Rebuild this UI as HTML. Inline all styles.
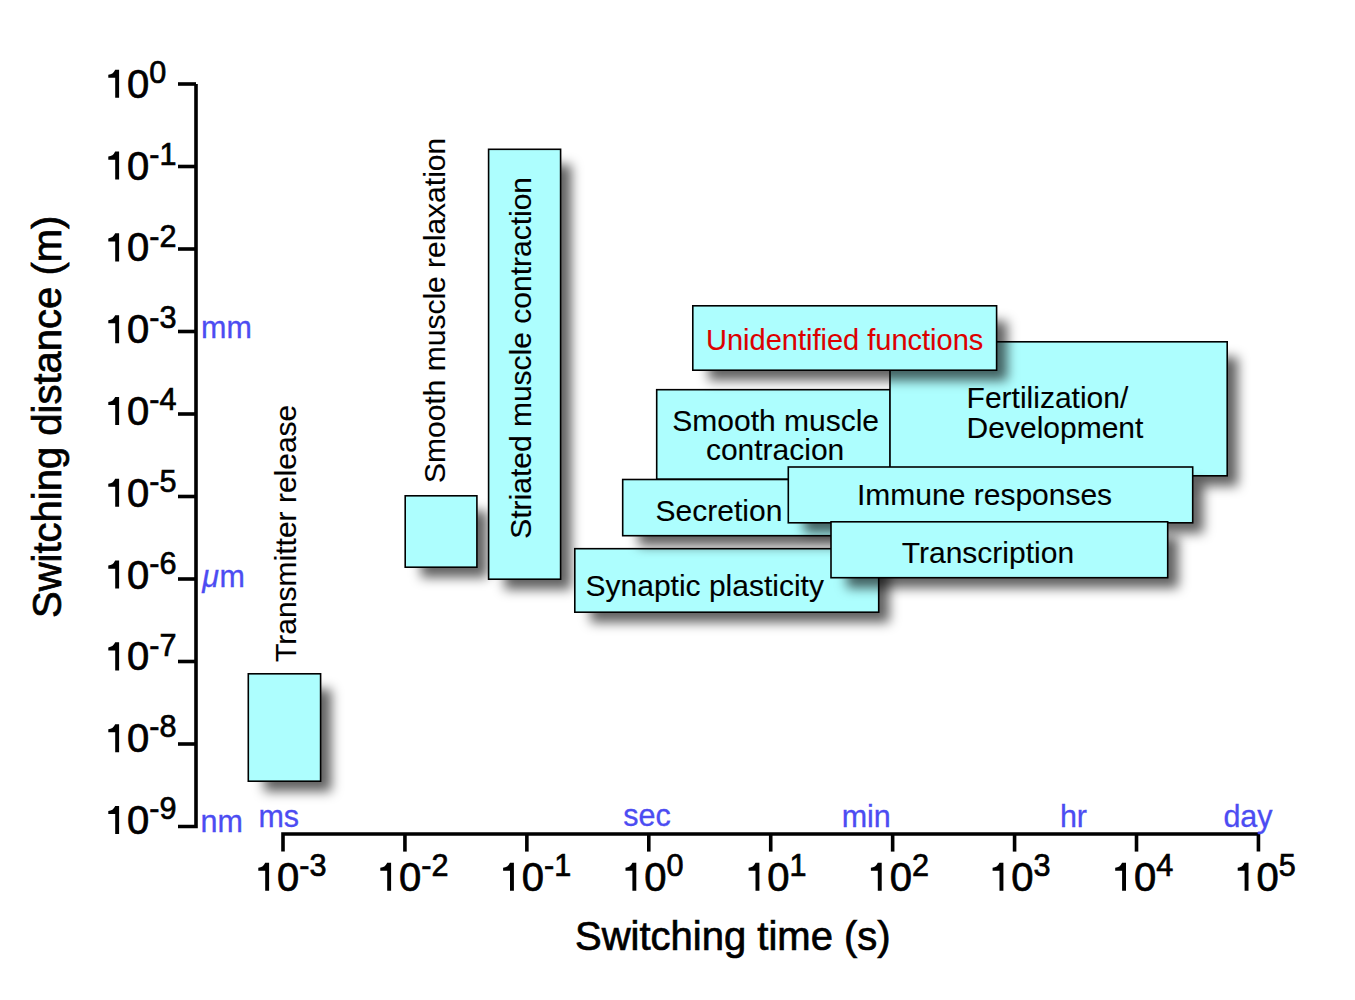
<!DOCTYPE html><html><head><meta charset="utf-8"><style>html,body{margin:0;padding:0;background:#fff;overflow:hidden}svg{display:block}</style></head><body>
<svg width="1355" height="1000" viewBox="0 0 1355 1000">
<defs><filter id="sh" x="-50%" y="-50%" width="200%" height="200%"><feGaussianBlur stdDeviation="5.6"/></filter></defs>
<rect width="1355" height="1000" fill="#fff"/>
<g stroke="#000" stroke-width="3.6" fill="none" stroke-linecap="butt" stroke-linejoin="miter">
<path d="M178,84.0 H196"/>
<path d="M196,84.0 V826.5 H178"/>
<path d="M178,166.5 H196"/>
<path d="M178,249.0 H196"/>
<path d="M178,331.5 H196"/>
<path d="M178,414.0 H196"/>
<path d="M178,496.5 H196"/>
<path d="M178,579.0 H196"/>
<path d="M178,661.5 H196"/>
<path d="M178,744.0 H196"/>
<path d="M283.0,851.6 V834 H1258.44 V851.6"/>
<path d="M404.93,851.6 V834"/>
<path d="M526.86,851.6 V834"/>
<path d="M648.79,851.6 V834"/>
<path d="M770.72,851.6 V834"/>
<path d="M892.6500000000001,851.6 V834"/>
<path d="M1014.58,851.6 V834"/>
<path d="M1136.51,851.6 V834"/>
</g>
<g style='font-family:"Liberation Sans", sans-serif' fill="#000" stroke="#000" stroke-width="0.7">
<path stroke="none" d="M115.20,69.75 H119.10 V97.80 H115.20 V77.85 H108.30 V74.80 Q113.00,74.50 115.20,69.75 Z"/>
<text x="127.04" y="97.8" font-size="40">0<tspan font-size="30.6" dy="-14.9">0</tspan></text>
<path stroke="none" d="M115.20,151.55 H119.10 V179.60 H115.20 V159.65 H108.30 V156.60 Q113.00,156.30 115.20,151.55 Z"/>
<text x="127.04" y="179.6" font-size="40">0<tspan font-size="30.6" dy="-14.9">-1</tspan></text>
<path stroke="none" d="M115.20,233.35 H119.10 V261.40 H115.20 V241.45 H108.30 V238.40 Q113.00,238.10 115.20,233.35 Z"/>
<text x="127.04" y="261.4" font-size="40">0<tspan font-size="30.6" dy="-14.9">-2</tspan></text>
<path stroke="none" d="M115.20,315.15 H119.10 V343.20 H115.20 V323.25 H108.30 V320.20 Q113.00,319.90 115.20,315.15 Z"/>
<text x="127.04" y="343.2" font-size="40">0<tspan font-size="30.6" dy="-14.9">-3</tspan></text>
<path stroke="none" d="M115.20,396.95 H119.10 V425.00 H115.20 V405.05 H108.30 V402.00 Q113.00,401.70 115.20,396.95 Z"/>
<text x="127.04" y="425.0" font-size="40">0<tspan font-size="30.6" dy="-14.9">-4</tspan></text>
<path stroke="none" d="M115.20,478.75 H119.10 V506.80 H115.20 V486.85 H108.30 V483.80 Q113.00,483.50 115.20,478.75 Z"/>
<text x="127.04" y="506.8" font-size="40">0<tspan font-size="30.6" dy="-14.9">-5</tspan></text>
<path stroke="none" d="M115.20,560.55 H119.10 V588.60 H115.20 V568.65 H108.30 V565.60 Q113.00,565.30 115.20,560.55 Z"/>
<text x="127.04" y="588.6" font-size="40">0<tspan font-size="30.6" dy="-14.9">-6</tspan></text>
<path stroke="none" d="M115.20,642.35 H119.10 V670.40 H115.20 V650.45 H108.30 V647.40 Q113.00,647.10 115.20,642.35 Z"/>
<text x="127.04" y="670.4" font-size="40">0<tspan font-size="30.6" dy="-14.9">-7</tspan></text>
<path stroke="none" d="M115.20,724.15 H119.10 V752.20 H115.20 V732.25 H108.30 V729.20 Q113.00,728.90 115.20,724.15 Z"/>
<text x="127.04" y="752.2" font-size="40">0<tspan font-size="30.6" dy="-14.9">-8</tspan></text>
<path stroke="none" d="M115.20,805.95 H119.10 V834.00 H115.20 V814.05 H108.30 V811.00 Q113.00,810.70 115.20,805.95 Z"/>
<text x="127.04" y="834.0" font-size="40">0<tspan font-size="30.6" dy="-14.9">-9</tspan></text>
<path stroke="none" d="M265.20,862.75 H269.10 V890.80 H265.20 V870.85 H258.30 V867.80 Q263.00,867.50 265.20,862.75 Z"/>
<text x="277.04" y="890.8" font-size="40">0<tspan font-size="30.6" dy="-15.1">-3</tspan></text>
<path stroke="none" d="M387.20,862.75 H391.10 V890.80 H387.20 V870.85 H380.30 V867.80 Q385.00,867.50 387.20,862.75 Z"/>
<text x="399.04" y="890.8" font-size="40">0<tspan font-size="30.6" dy="-15.1">-2</tspan></text>
<path stroke="none" d="M510.00,862.75 H513.90 V890.80 H510.00 V870.85 H503.10 V867.80 Q507.80,867.50 510.00,862.75 Z"/>
<text x="521.84" y="890.8" font-size="40">0<tspan font-size="30.6" dy="-15.1">-1</tspan></text>
<path stroke="none" d="M632.40,862.75 H636.30 V890.80 H632.40 V870.85 H625.50 V867.80 Q630.20,867.50 632.40,862.75 Z"/>
<text x="644.24" y="890.8" font-size="40">0<tspan font-size="30.6" dy="-15.1">0</tspan></text>
<path stroke="none" d="M755.50,862.75 H759.40 V890.80 H755.50 V870.85 H748.60 V867.80 Q753.30,867.50 755.50,862.75 Z"/>
<text x="767.34" y="890.8" font-size="40">0<tspan font-size="30.6" dy="-15.1">1</tspan></text>
<path stroke="none" d="M877.80,862.75 H881.70 V890.80 H877.80 V870.85 H870.90 V867.80 Q875.60,867.50 877.80,862.75 Z"/>
<text x="889.64" y="890.8" font-size="40">0<tspan font-size="30.6" dy="-15.1">2</tspan></text>
<path stroke="none" d="M999.50,862.75 H1003.40 V890.80 H999.50 V870.85 H992.60 V867.80 Q997.30,867.50 999.50,862.75 Z"/>
<text x="1011.34" y="890.8" font-size="40">0<tspan font-size="30.6" dy="-15.1">3</tspan></text>
<path stroke="none" d="M1122.10,862.75 H1126.00 V890.80 H1122.10 V870.85 H1115.20 V867.80 Q1119.90,867.50 1122.10,862.75 Z"/>
<text x="1133.94" y="890.8" font-size="40">0<tspan font-size="30.6" dy="-15.1">4</tspan></text>
<path stroke="none" d="M1244.60,862.75 H1248.50 V890.80 H1244.60 V870.85 H1237.70 V867.80 Q1242.40,867.50 1244.60,862.75 Z"/>
<text x="1256.44" y="890.8" font-size="40">0<tspan font-size="30.6" dy="-15.1">5</tspan></text>
<text x="575" y="949.7" font-size="40">Switching time (s)</text>
<text transform="translate(61.4,618) rotate(-90)" x="0" y="0" font-size="40">Switching distance (m)</text>
</g>
<g style='font-family:"Liberation Sans", sans-serif' fill="#4c4cf2" stroke="#4c4cf2" stroke-width="0.3" font-size="30.5">
<text x="201" y="337.8">mm</text>
<text x="202.3" y="586.5"><tspan font-style="italic">μ</tspan><tspan dx="0.5">m</tspan></text>
<text x="200.5" y="831.9">nm</text>
<text x="258.4" y="826.6">ms</text>
<text x="623.3" y="826.4">sec</text>
<text x="841.7" y="826.6">min</text>
<text x="1059.9" y="826.8">hr</text>
<text x="1223.4" y="826.6">day</text>
</g>
<g style='font-family:"Liberation Sans", sans-serif'>
<rect filter="url(#sh)" x="264.00" y="689.10" width="67.30" height="102.40" fill="#000" fill-opacity="0.62"/>
<rect x="248.30" y="673.80" width="72.30" height="107.40" fill="#adfefe" stroke="#000" stroke-width="1.6"/>
<rect filter="url(#sh)" x="420.90" y="511.10" width="66.70" height="66.40" fill="#000" fill-opacity="0.62"/>
<rect x="405.20" y="495.80" width="71.70" height="71.40" fill="#adfefe" stroke="#000" stroke-width="1.6"/>
<rect filter="url(#sh)" x="504.30" y="164.60" width="67.00" height="424.90" fill="#000" fill-opacity="0.62"/>
<rect x="488.60" y="149.30" width="72.00" height="429.90" fill="#adfefe" stroke="#000" stroke-width="1.6"/>
<rect filter="url(#sh)" x="590.50" y="564.00" width="298.90" height="58.50" fill="#000" fill-opacity="0.62"/>
<rect x="574.80" y="548.70" width="303.90" height="63.50" fill="#adfefe" stroke="#000" stroke-width="1.6"/>
<rect filter="url(#sh)" x="672.40" y="405.00" width="228.50" height="84.50" fill="#000" fill-opacity="0.62"/>
<rect x="656.70" y="389.70" width="233.50" height="89.50" fill="#adfefe" stroke="#000" stroke-width="1.6"/>
<rect filter="url(#sh)" x="905.70" y="357.10" width="332.20" height="129.00" fill="#000" fill-opacity="0.62"/>
<rect x="890.00" y="341.80" width="337.20" height="134.00" fill="#adfefe" stroke="#000" stroke-width="1.6"/>
<rect filter="url(#sh)" x="708.50" y="321.10" width="298.80" height="59.40" fill="#000" fill-opacity="0.62"/>
<rect x="692.80" y="305.80" width="303.80" height="64.40" fill="#adfefe" stroke="#000" stroke-width="1.6"/>
<rect filter="url(#sh)" x="638.40" y="494.80" width="206.50" height="51.20" fill="#000" fill-opacity="0.62"/>
<rect x="622.70" y="479.50" width="211.50" height="56.20" fill="#adfefe" stroke="#000" stroke-width="1.6"/>
<rect filter="url(#sh)" x="804.00" y="482.30" width="399.40" height="50.80" fill="#000" fill-opacity="0.62"/>
<rect x="788.30" y="467.00" width="404.40" height="55.80" fill="#adfefe" stroke="#000" stroke-width="1.6"/>
<rect filter="url(#sh)" x="846.70" y="537.10" width="331.70" height="50.90" fill="#000" fill-opacity="0.62"/>
<rect x="831.00" y="521.80" width="336.70" height="55.90" fill="#adfefe" stroke="#000" stroke-width="1.6"/>
</g>
<g style='font-family:"Liberation Sans", sans-serif' fill="#000" stroke="#000" stroke-width="0.1" font-size="30">
<text transform="translate(296,662) rotate(-90)">Transmitter release</text>
<text transform="translate(445.3,483) rotate(-90)">Smooth muscle relaxation</text>
<text transform="translate(531,538.8) rotate(-90)">Striated muscle contraction</text>
<text x="706" y="349.9" font-size="29" fill="#dd0000" stroke="#dd0000">Unidentified functions</text>
<text x="672.3" y="430.5">Smooth muscle</text>
<text x="705.9" y="460.2">contracion</text>
<text x="966.6" y="407.5">Fertilization/</text>
<text x="966.6" y="437.8">Development</text>
<text x="655.6" y="520.8">Secretion</text>
<text x="857" y="504.9">Immune responses</text>
<text x="901.8" y="562.7">Transcription</text>
<text x="585.5" y="596">Synaptic plasticity</text>
</g>
</svg></body></html>
